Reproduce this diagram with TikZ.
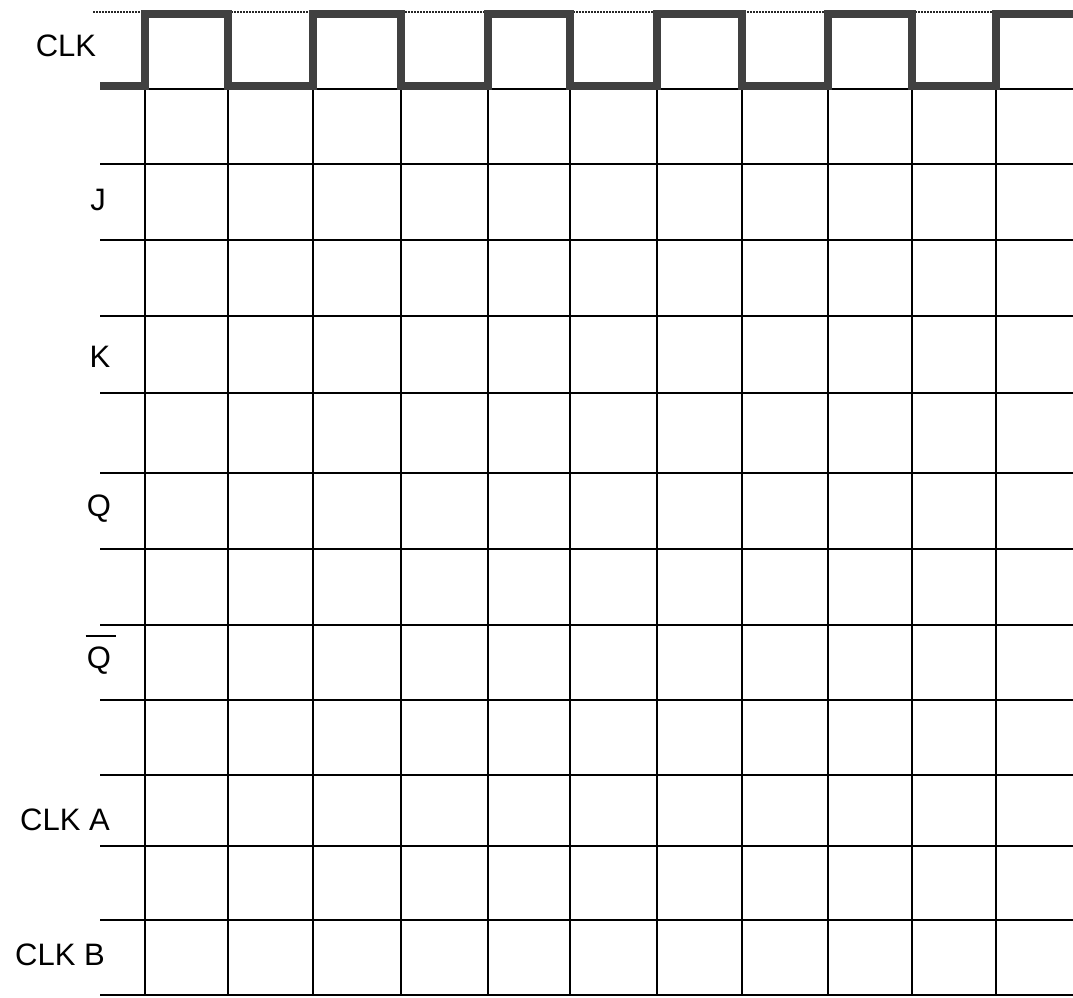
\documentclass[tikz,border=0pt]{standalone}
\usepackage{fontspec}
\setmainfont{Liberation Sans}
\begin{document}
\begin{tikzpicture}[x=1pt,y=-1pt,
  gridline/.style={line width=1.6pt,black},
  clkwave/.style={line width=8pt,black!75,line join=miter},
  topdots/.style={line width=2pt,dash pattern=on 1.5pt off 1.5pt,black!85},
  lbl/.style={inner sep=0pt,font=\fontsize{31}{31}\selectfont}]
\useasboundingbox[fill=white] (0,0) rectangle (1073,998);
% grid
\foreach \yy in {89,164,240,316,393,473,549,625,700,775,846,920,995}
  \draw[gridline] (100,\yy) -- (1073,\yy);
\foreach \xx in {145,228,313,401,488,570,657,742,828,912,996}
  \draw[gridline] (\xx,89) -- (\xx,995);
% top reference (dotted)
\draw[topdots] (93,12) -- (1073,12);
% clock waveform
\draw[clkwave] (100,86) -- (145,86) -- (145,14) -- (228,14) -- (228,86)
  -- (313,86) -- (313,14) -- (401,14) -- (401,86)
  -- (488,86) -- (488,14) -- (570,14) -- (570,86)
  -- (657,86) -- (657,14) -- (742,14) -- (742,86)
  -- (828,86) -- (828,14) -- (912,14) -- (912,86)
  -- (996,86) -- (996,14) -- (1076,14);
% labels
\node[lbl] (clk) at (66,46) {CLK};
\node[lbl] (j) at (98,200) {J};
\node[lbl] (k) at (100,357) {K};
\node[lbl] (q) at (99,509) {Q};
\node[lbl] (qb) at (99,661) {Q};
\draw[line width=1.6pt] ([xshift=-1pt,yshift=11pt]qb.north west) -- ([xshift=5pt,yshift=11pt]qb.north east);
\node[lbl] (clka) at (65,820) {CLK A};
\node[lbl] (clkb) at (60,955) {CLK B};
\end{tikzpicture}
\end{document}
